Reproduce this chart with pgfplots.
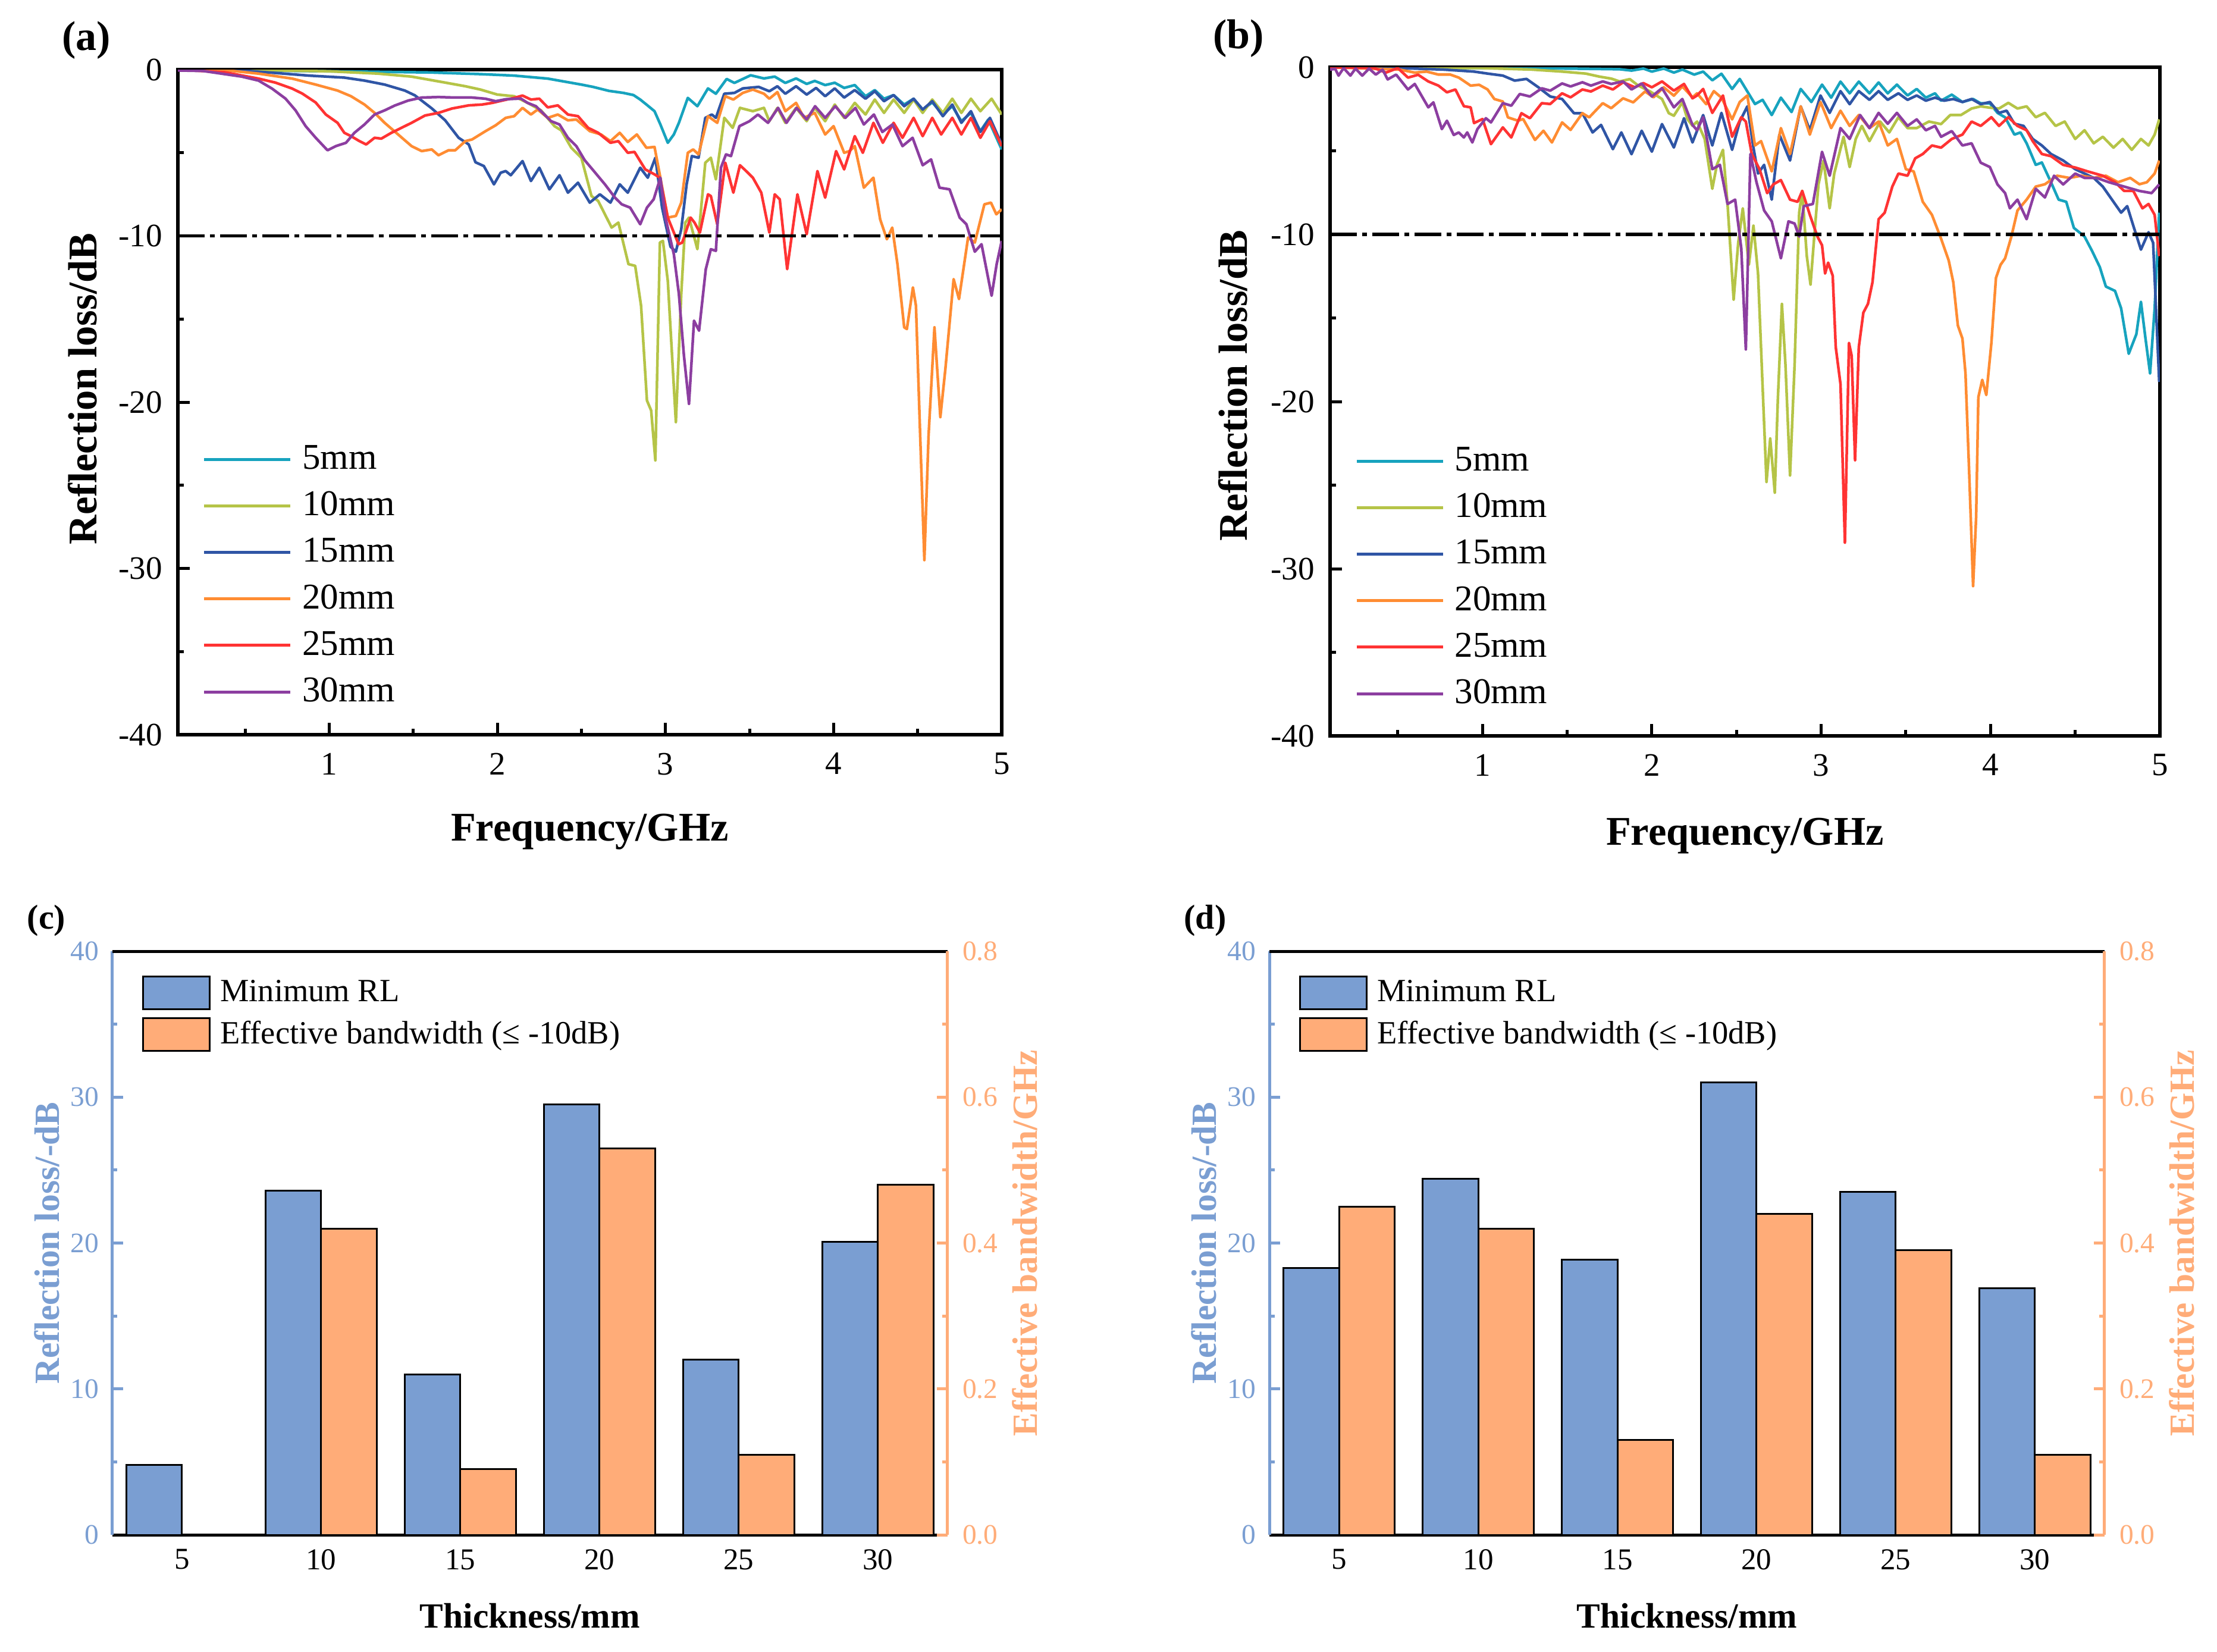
\documentclass[border=0pt]{standalone}
\usepackage{fontspec}
\setmainfont{Liberation Serif}
\usepackage{pgfplots}
\pgfplotsset{compat=1.18}
\definecolor{c5}{RGB}{23,163,190}
\definecolor{c10}{RGB}{181,196,71}
\definecolor{c15}{RGB}{47,85,165}
\definecolor{c20}{RGB}{255,140,50}
\definecolor{c25}{RGB}{255,51,51}
\definecolor{c30}{RGB}{140,62,160}
\definecolor{barblue}{RGB}{122,158,210}
\definecolor{barorange}{RGB}{255,172,120}
\pgfplotsset{
 rlstyle/.style={
  scale only axis,
  xmin=0.1, xmax=5, ymin=-40, ymax=0,
  xtick={1,2,3,4,5}, xticklabels={1,2,3,4,5},
  minor xtick={0.5,1.5,2.5,3.5,4.5},
  ytick={-40,-30,-20,-10,0}, yticklabels={-40,-30,-20,-10,0},
  minor ytick={-35,-25,-15,-5},
  tick align=inside, xtick pos=left, ytick pos=left,
  major tick length=4pt, minor tick length=2pt,
  tick style={black, line width=1pt},
  axis line style={line width=1.2pt},
  tick label style={font=\fontsize{11}{13}\selectfont},
  xticklabel style={yshift=-2.6pt},
  yticklabel style={xshift=-1.7pt},
  label style={font=\bfseries\fontsize{13.7}{16}\selectfont},
  legend style={draw=none, fill=none, inner sep=0pt, outer sep=0pt, row sep=6.05pt, column sep=3.5pt,
    nodes={inner sep=0pt}, font=\fontsize{12.2}{14}\selectfont},
  legend cell align=left,
  legend image code/.code={\draw[##1, line width=1pt] (0pt,0pt) -- (29pt,0pt);},
  every axis plot/.append style={line width=0.9pt, line join=round},
 },
 barlegend/.style={legend image code/.code={\draw[##1] (0pt,-5.5pt) rectangle (22.4pt,5.5pt);}},
 barstyle/.style={
  scale only axis,
  xmin=-0.5, xmax=5.5, ymin=0,
  tick align=inside,
  major tick length=3.6pt, minor tick length=1.7pt,
  yticklabel style={font=\fontsize{9.5}{12}\selectfont},
  xticklabel style={font=\fontsize{10.2}{12}\selectfont},
  label style={font=\bfseries\fontsize{11.9}{14}\selectfont},
  x axis line style={-, black, line width=1pt},
  barlegend,
 },
 barleft/.style={
  axis x line*=bottom, axis y line*=left,
  ymax=40, ytick={0,10,20,30,40}, yticklabels={0,10,20,30,40}, minor ytick={5,15,25,35},
  y axis line style={-, barblue, line width=1pt}, ytick style={barblue, line width=1pt},
  yticklabel style={barblue, xshift=-1pt},
  xtick={0,1,2,3,4,5}, xticklabels={5,10,15,20,25,30}, xtick style={draw=none}, xticklabel style={yshift=-1.35pt},
  xlabel={Thickness/mm}, xlabel style={at={(axis description cs:0.5,-0.1386)}, anchor=center},
  ylabel={Reflection loss/-dB}, ylabel style={at={(axis description cs:-0.0783,0.5)}, anchor=center, color=barblue},
 },
 barright/.style={
  axis x line*=top, axis y line*=right, xtick=\empty,
  ymax=0.8, ytick={0,0.2,0.4,0.6,0.8}, yticklabels={0.0,0.2,0.4,0.6,0.8}, minor ytick={0.1,0.3,0.5,0.7},
  y axis line style={-, barorange, line width=1pt}, ytick style={barorange, line width=1pt},
  yticklabel style={barorange, xshift=1.5pt},
  ylabel={Effective bandwidth/GHz}, ylabel style={at={(axis description cs:1.0926,0.5)}, anchor=center, color=barorange},
  legend style={draw=none, fill=none, inner sep=0pt, outer sep=0pt, row sep=2.4pt, column sep=3.2pt,
    nodes={inner sep=0pt}, font=\fontsize{10.9}{13}\selectfont, at={(axis description cs:0.0358,0.958)}, anchor=north west},
  legend cell align=left,
 },
}
\begin{document}
\begin{tikzpicture}
\useasboundingbox (0pt,0pt) rectangle (745.4pt,-555.2pt);
% ---------------- (a)
\begin{axis}[rlstyle, at={(59.8pt,-247pt)}, anchor=south west, width=277pt, height=223.6pt,
  xlabel={Frequency/GHz}, ylabel={Reflection loss/dB},
  xlabel style={at={(axis description cs:0.5,-0.1458)}, anchor=center},
  ylabel style={at={(axis description cs:-0.1155,0.52)}, anchor=center},
  legend style={at={(axis description cs:0.0303,0.0428)}, anchor=south west}]
\addplot[c5] coordinates {(0.1,0) (0.4,-0.03) (0.8,-0.08) (1.2,-0.12) (1.6,-0.17) (1.9,-0.27) (2.1,-0.36) (2.3,-0.54) (2.5,-0.9) (2.57,-1.04) (2.665,-1.28) (2.75,-1.4) (2.81,-1.53) (2.85,-1.8) (2.887,-2.1) (2.935,-2.5) (2.97,-3.3) (3.014,-4.4) (3.05,-3.9) (3.08,-3.2) (3.133,-1.7) (3.19,-2.2) (3.253,-1.13) (3.30,-1.45) (3.364,-0.56) (3.41,-0.8) (3.507,-0.34) (3.586,-0.53) (3.65,-0.42) (3.713,-0.8) (3.777,-0.53) (3.84,-0.86) (3.888,-0.68) (3.95,-0.93) (4.007,-0.79) (4.063,-1.1) (4.126,-0.93) (4.19,-1.6) (4.245,-1.23) (4.30,-1.75) (4.357,-1.53) (4.42,-2.1) (4.476,-1.75) (4.53,-2.4) (4.587,-1.97) (4.65,-2.7) (4.706,-2.2) (4.76,-3.1) (4.817,-2.6) (4.873,-3.7) (4.92,-3.0) (5.0,-4.8)};
\addplot[c10] coordinates {(0.1,0) (0.6,-0.03) (1.0,-0.1) (1.29,-0.24) (1.49,-0.42) (1.69,-0.78) (1.81,-1.0) (1.9,-1.2) (2.0,-1.5) (2.1,-1.6) (2.18,-2.0) (2.26,-2.45) (2.34,-3.4) (2.38,-3.65) (2.44,-4.7) (2.5,-5.3) (2.56,-7.6) (2.6,-7.9) (2.65,-8.9) (2.68,-9.5) (2.72,-9.2) (2.78,-11.7) (2.82,-11.8) (2.855,-14.2) (2.89,-19.9) (2.915,-20.5) (2.94,-23.5) (2.967,-10.4) (2.985,-10.3) (3.014,-12.7) (3.062,-21.2) (3.094,-13.5) (3.118,-9.2) (3.14,-8.9) (3.19,-10.8) (3.237,-5.6) (3.27,-5.3) (3.30,-6.6) (3.35,-2.9) (3.40,-3.5) (3.443,-2.3) (3.52,-2.5) (3.586,-2.3) (3.618,-3.1) (3.666,-2.3) (3.713,-3.2) (3.777,-2.3) (3.84,-3.1) (3.888,-2.3) (3.95,-3.1) (4.007,-2.1) (4.063,-2.9) (4.126,-2.0) (4.19,-2.7) (4.245,-1.8) (4.30,-2.6) (4.357,-1.8) (4.42,-2.6) (4.476,-1.8) (4.53,-2.6) (4.587,-1.8) (4.65,-2.6) (4.706,-1.75) (4.76,-2.6) (4.817,-1.75) (4.873,-2.5) (4.94,-1.75) (5.0,-2.7)};
\addplot[c15] coordinates {(0.1,0) (0.48,-0.05) (0.68,-0.2) (0.88,-0.36) (1.09,-0.48) (1.21,-0.66) (1.33,-0.9) (1.45,-1.26) (1.51,-1.55) (1.61,-2.33) (1.69,-3.05) (1.77,-4.1) (1.83,-4.5) (1.87,-5.57) (1.92,-5.8) (1.98,-6.9) (2.02,-6.2) (2.05,-6.1) (2.08,-6.35) (2.15,-5.5) (2.2,-6.7) (2.25,-5.9) (2.31,-7.2) (2.37,-6.35) (2.42,-7.4) (2.48,-6.8) (2.55,-8.0) (2.61,-7.5) (2.673,-8.0) (2.728,-6.9) (2.776,-7.4) (2.85,-5.9) (2.895,-6.5) (2.94,-5.3) (2.98,-8.3) (3.03,-10.65) (3.062,-10.95) (3.094,-9.6) (3.126,-6.9) (3.157,-5.2) (3.197,-5.3) (3.237,-2.9) (3.276,-2.7) (3.30,-2.9) (3.35,-1.45) (3.41,-1.4) (3.46,-1.13) (3.555,-1.04) (3.618,-1.3) (3.666,-1.0) (3.713,-1.45) (3.777,-1.0) (3.84,-1.5) (3.896,-1.1) (3.95,-1.6) (4.007,-1.13) (4.063,-1.68) (4.126,-1.23) (4.19,-1.75) (4.245,-1.3) (4.30,-1.9) (4.357,-1.53) (4.42,-2.2) (4.476,-1.75) (4.53,-2.4) (4.587,-1.9) (4.65,-2.8) (4.706,-2.1) (4.76,-3.2) (4.817,-2.5) (4.873,-3.75) (4.93,-2.9) (5.0,-4.5)};
\addplot[c20] coordinates {(0.1,0) (0.38,-0.03) (0.58,-0.24) (0.78,-0.54) (0.92,-0.9) (1.05,-1.26) (1.13,-1.6) (1.21,-2.1) (1.27,-2.6) (1.33,-3.2) (1.41,-3.9) (1.49,-4.6) (1.55,-4.9) (1.61,-4.8) (1.65,-5.15) (1.71,-4.85) (1.75,-4.85) (1.81,-4.3) (1.85,-4.2) (1.93,-3.7) (1.99,-3.35) (2.05,-2.9) (2.1,-2.8) (2.15,-2.3) (2.2,-2.7) (2.24,-2.4) (2.3,-2.9) (2.36,-2.7) (2.42,-3.05) (2.47,-3.0) (2.55,-3.7) (2.617,-3.9) (2.673,-4.3) (2.728,-3.8) (2.776,-4.35) (2.83,-3.9) (2.887,-4.7) (2.935,-4.65) (2.967,-6.35) (3.014,-8.9) (3.062,-8.8) (3.094,-8.0) (3.133,-5.0) (3.165,-4.8) (3.197,-5.1) (3.253,-2.8) (3.308,-3.2) (3.356,-1.6) (3.404,-1.8) (3.46,-1.4) (3.52,-1.2) (3.586,-1.45) (3.618,-1.75) (3.666,-1.35) (3.713,-2.5) (3.777,-2.0) (3.824,-2.9) (3.888,-2.6) (3.95,-3.9) (4.0,-3.4) (4.063,-5.0) (4.095,-4.9) (4.126,-4.6) (4.18,-7.1) (4.237,-6.5) (4.277,-9.0) (4.317,-10.2) (4.349,-9.5) (4.38,-11.7) (4.42,-15.5) (4.436,-15.6) (4.472,-13.1) (4.49,-14.2) (4.515,-22.0) (4.54,-29.5) (4.565,-22.0) (4.6,-15.5) (4.635,-20.9) (4.665,-18.0) (4.714,-12.6) (4.746,-13.8) (4.80,-10.1) (4.84,-10.4) (4.897,-8.1) (4.936,-8.0) (4.968,-8.7) (5.0,-8.4)};
\addplot[c25] coordinates {(0.1,0) (0.38,-0.16) (0.58,-0.54) (0.68,-0.78) (0.78,-1.14) (0.84,-1.44) (0.92,-1.98) (0.98,-2.7) (1.05,-3.2) (1.09,-3.8) (1.13,-4.0) (1.18,-4.3) (1.22,-4.5) (1.27,-4.1) (1.31,-4.15) (1.37,-3.8) (1.43,-3.5) (1.49,-3.2) (1.57,-2.76) (1.65,-2.6) (1.73,-2.34) (1.83,-2.15) (1.91,-2.1) (1.97,-2.0) (2.03,-1.86) (2.1,-1.7) (2.15,-1.56) (2.2,-1.8) (2.25,-1.75) (2.3,-2.27) (2.36,-2.15) (2.42,-2.7) (2.48,-2.8) (2.54,-3.5) (2.6,-3.8) (2.673,-4.4) (2.72,-4.3) (2.776,-5.0) (2.816,-4.95) (2.88,-6.0) (2.935,-6.3) (2.967,-6.5) (3.014,-8.9) (3.078,-10.5) (3.10,-10.4) (3.15,-8.9) (3.173,-9.2) (3.205,-9.8) (3.253,-7.5) (3.27,-7.6) (3.308,-9.3) (3.356,-5.6) (3.404,-7.4) (3.443,-5.75) (3.475,-6.05) (3.52,-6.5) (3.57,-7.4) (3.618,-9.8) (3.65,-7.5) (3.68,-7.8) (3.724,-12.0) (3.785,-7.5) (3.84,-9.9) (3.904,-6.1) (3.95,-7.7) (4.015,-4.9) (4.063,-6.0) (4.126,-4.0) (4.174,-5.0) (4.237,-3.2) (4.293,-4.4) (4.357,-3.2) (4.41,-4.1) (4.476,-2.9) (4.53,-4.0) (4.587,-2.9) (4.64,-3.9) (4.706,-2.9) (4.76,-3.9) (4.817,-2.9) (4.873,-4.1) (4.93,-3.1) (5.0,-4.6)};
\addplot[c30] coordinates {(0.1,-0.05) (0.25,-0.08) (0.48,-0.42) (0.58,-0.66) (0.66,-1.14) (0.74,-1.74) (0.80,-2.45) (0.86,-3.4) (0.92,-4.1) (0.99,-4.85) (1.04,-4.6) (1.1,-4.4) (1.15,-3.8) (1.21,-3.3) (1.27,-2.7) (1.33,-2.45) (1.39,-2.16) (1.47,-1.86) (1.55,-1.68) (1.65,-1.65) (1.75,-1.68) (1.85,-1.68) (1.93,-1.75) (1.99,-1.9) (2.05,-1.78) (2.14,-1.74) (2.18,-2.0) (2.23,-2.2) (2.28,-2.7) (2.32,-3.1) (2.37,-3.3) (2.42,-4.1) (2.47,-4.6) (2.52,-5.45) (2.57,-6.05) (2.64,-6.9) (2.70,-7.7) (2.74,-8.1) (2.79,-8.3) (2.85,-9.3) (2.89,-8.3) (2.93,-7.8) (2.97,-6.5) (3.0,-8.9) (3.05,-11.1) (3.08,-13.5) (3.11,-17.2) (3.14,-20.1) (3.17,-15.1) (3.2,-15.7) (3.24,-12.0) (3.27,-10.8) (3.30,-10.9) (3.33,-5.9) (3.36,-5.1) (3.39,-5.2) (3.44,-3.4) (3.5,-3.1) (3.55,-2.7) (3.61,-3.2) (3.67,-2.3) (3.72,-3.2) (3.78,-2.3) (3.84,-3.0) (3.89,-2.2) (3.95,-2.9) (4.01,-2.2) (4.07,-2.9) (4.13,-2.3) (4.18,-3.3) (4.24,-2.7) (4.29,-3.75) (4.35,-3.3) (4.41,-4.6) (4.47,-4.1) (4.53,-5.75) (4.58,-5.4) (4.63,-7.1) (4.69,-7.2) (4.75,-8.9) (4.79,-9.3) (4.84,-10.95) (4.88,-10.5) (4.94,-13.6) (4.97,-11.7) (5.0,-10.3)};
\addplot[black, line width=1.1pt, dash pattern=on 9pt off 1.8pt on 1.6pt off 1.8pt, forget plot] coordinates {(0.1,-10) (5,-10)};
\legend{5mm,10mm,15mm,20mm,25mm,30mm}
\end{axis}
% ---------------- (b)
\begin{axis}[rlstyle, at={(447.2pt,-247.4pt)}, anchor=south west, width=279pt, height=224.8pt,
  xlabel={Frequency/GHz}, ylabel={Reflection loss/dB},
  xlabel style={at={(axis description cs:0.5,-0.1495)}, anchor=center},
  ylabel style={at={(axis description cs:-0.1168,0.524)}, anchor=center},
  legend style={at={(axis description cs:0.0301,0.0418)}, anchor=south west}]
\addplot[c5] coordinates {(0.1,0) (0.5,-0.03) (1.0,-0.05) (1.5,-0.08) (1.81,-0.12) (1.88,-0.2) (1.95,-0.08) (2.0,-0.26) (2.07,-0.08) (2.13,-0.32) (2.18,-0.14) (2.25,-0.44) (2.303,-0.26) (2.357,-0.78) (2.411,-0.39) (2.474,-1.3) (2.519,-0.7) (2.609,-2.2) (2.654,-1.95) (2.708,-2.86) (2.762,-1.82) (2.825,-2.68) (2.879,-1.3) (2.942,-2.08) (3.005,-1.04) (3.059,-1.82) (3.114,-0.86) (3.168,-1.56) (3.222,-0.86) (3.285,-1.56) (3.339,-0.91) (3.393,-1.56) (3.447,-1.04) (3.51,-1.69) (3.564,-1.3) (3.618,-1.82) (3.672,-1.56) (3.708,-2.0) (3.771,-1.64) (3.834,-2.08) (3.897,-1.9) (3.942,-2.16) (3.996,-2.16) (4.041,-2.73) (4.086,-3.0) (4.141,-4.03) (4.177,-3.9) (4.213,-4.55) (4.267,-5.84) (4.303,-5.7) (4.357,-6.88) (4.402,-7.92) (4.447,-8.05) (4.492,-9.61) (4.555,-10.13) (4.60,-11.0) (4.645,-11.95) (4.681,-13.12) (4.735,-13.38) (4.771,-14.42) (4.816,-17.14) (4.861,-15.97) (4.888,-14.03) (4.915,-16.23) (4.942,-18.31) (4.969,-14.42) (4.996,-8.7)};
\addplot[c10] coordinates {(0.1,0) (0.5,-0.03) (1.0,-0.05) (1.29,-0.14) (1.47,-0.26) (1.61,-0.38) (1.69,-0.56) (1.76,-0.68) (1.81,-0.85) (1.87,-0.71) (1.92,-1.1) (1.99,-1.45) (2.06,-1.9) (2.10,-2.75) (2.13,-2.9) (2.18,-2.1) (2.21,-3.1) (2.24,-3.5) (2.267,-3.25) (2.312,-4.29) (2.357,-7.27) (2.384,-5.84) (2.42,-4.94) (2.447,-8.18) (2.483,-13.9) (2.51,-10.5) (2.537,-8.44) (2.573,-11.82) (2.60,-9.48) (2.627,-12.34) (2.654,-19.09) (2.677,-24.81) (2.699,-22.21) (2.726,-25.45) (2.744,-19.87) (2.768,-14.16) (2.789,-17.79) (2.816,-24.42) (2.843,-17.79) (2.87,-8.7) (2.888,-7.4) (2.915,-11.3) (2.937,-13.0) (2.96,-10.0) (2.984,-7.0) (3.014,-5.58) (3.05,-8.44) (3.077,-6.36) (3.132,-4.16) (3.168,-5.97) (3.204,-4.29) (3.24,-3.51) (3.285,-4.42) (3.348,-3.25) (3.402,-3.9) (3.456,-2.99) (3.51,-3.64) (3.564,-3.64) (3.636,-3.25) (3.708,-3.4) (3.762,-2.86) (3.825,-2.86) (3.888,-2.47) (3.942,-2.34) (3.996,-2.42) (4.05,-2.47) (4.105,-2.13) (4.159,-2.47) (4.213,-2.34) (4.267,-2.99) (4.321,-2.73) (4.384,-3.51) (4.438,-3.25) (4.50,-4.29) (4.555,-3.77) (4.609,-4.55) (4.663,-4.16) (4.726,-4.81) (4.78,-4.29) (4.834,-4.94) (4.888,-4.29) (4.933,-4.68) (4.969,-4.03) (4.996,-3.12)};
\addplot[c15] coordinates {(0.1,0) (0.6,-0.08) (0.77,-0.14) (0.95,-0.26) (1.03,-0.38) (1.12,-0.5) (1.19,-0.8) (1.26,-0.7) (1.33,-1.2) (1.40,-1.75) (1.47,-1.9) (1.54,-2.75) (1.59,-2.75) (1.65,-3.9) (1.70,-3.45) (1.77,-4.9) (1.82,-3.9) (1.88,-5.2) (1.94,-3.8) (2.0,-5.05) (2.06,-3.4) (2.13,-4.8) (2.19,-3.05) (2.24,-4.5) (2.303,-2.86) (2.357,-4.68) (2.411,-2.73) (2.474,-4.94) (2.519,-3.25) (2.564,-2.34) (2.60,-4.81) (2.627,-6.36) (2.663,-5.84) (2.708,-7.92) (2.753,-4.03) (2.816,-5.58) (2.879,-2.34) (2.933,-3.77) (2.996,-1.69) (3.05,-2.73) (3.114,-1.43) (3.168,-2.21) (3.222,-1.43) (3.285,-1.95) (3.339,-1.43) (3.393,-1.95) (3.456,-1.56) (3.51,-1.95) (3.564,-1.69) (3.618,-2.0) (3.672,-1.82) (3.726,-2.0) (3.78,-1.9) (3.834,-2.08) (3.888,-1.9) (3.942,-2.21) (3.996,-2.08) (4.05,-2.73) (4.095,-2.6) (4.141,-3.38) (4.195,-3.51) (4.249,-4.29) (4.303,-4.68) (4.357,-5.19) (4.429,-5.58) (4.50,-6.1) (4.555,-6.36) (4.609,-6.62) (4.663,-7.14) (4.717,-7.92) (4.771,-8.7) (4.807,-8.31) (4.843,-9.48) (4.888,-10.91) (4.933,-9.87) (4.96,-10.5) (4.996,-18.83)};
\addplot[c20] coordinates {(0.1,0) (0.51,-0.14) (0.60,-0.32) (0.67,-0.26) (0.74,-0.44) (0.81,-0.44) (0.86,-0.62) (0.93,-1.1) (0.98,-1.05) (1.03,-1.33) (1.07,-1.9) (1.12,-2.05) (1.15,-3.0) (1.21,-3.2) (1.24,-3.1) (1.31,-4.35) (1.36,-3.8) (1.41,-4.5) (1.47,-3.3) (1.52,-3.75) (1.59,-2.75) (1.63,-3.0) (1.71,-2.15) (1.76,-2.45) (1.83,-1.86) (1.89,-2.1) (1.96,-1.45) (2.01,-1.8) (2.07,-1.2) (2.13,-1.7) (2.18,-1.15) (2.24,-1.8) (2.267,-1.56) (2.321,-2.21) (2.366,-1.43) (2.411,-1.82) (2.474,-3.12) (2.519,-2.08) (2.564,-1.69) (2.609,-4.68) (2.645,-4.42) (2.708,-6.23) (2.762,-3.64) (2.816,-5.19) (2.879,-2.34) (2.933,-4.03) (2.996,-2.08) (3.059,-3.64) (3.114,-2.6) (3.168,-3.51) (3.222,-2.86) (3.285,-3.64) (3.339,-3.25) (3.393,-4.68) (3.447,-4.29) (3.50,-6.1) (3.546,-6.23) (3.6,-8.05) (3.654,-8.83) (3.708,-10.26) (3.753,-11.56) (3.78,-12.86) (3.807,-15.45) (3.834,-16.23) (3.852,-18.31) (3.874,-24.29) (3.897,-31.04) (3.915,-26.88) (3.928,-19.74) (3.951,-18.7) (3.975,-19.61) (4.005,-16.49) (4.032,-12.6) (4.059,-11.82) (4.086,-11.43) (4.123,-10.13) (4.159,-8.57) (4.213,-7.92) (4.267,-7.14) (4.321,-7.0) (4.393,-6.49) (4.465,-6.62) (4.537,-6.49) (4.609,-6.62) (4.681,-6.49) (4.753,-6.88) (4.825,-6.62) (4.879,-7.0) (4.923,-6.88) (4.969,-6.36) (4.996,-5.58)};
\addplot[c25] coordinates {(0.1,0) (0.36,-0.05) (0.43,-0.32) (0.50,-0.05) (0.56,-0.62) (0.62,-0.45) (0.68,-0.85) (0.74,-1.1) (0.79,-1.5) (0.84,-1.33) (0.89,-2.33) (0.93,-2.4) (0.95,-3.34) (1.0,-3.1) (1.05,-4.6) (1.12,-3.6) (1.17,-4.2) (1.23,-2.75) (1.28,-3.05) (1.35,-2.15) (1.40,-2.2) (1.47,-1.56) (1.52,-1.8) (1.59,-1.33) (1.64,-1.45) (1.71,-1.1) (1.77,-1.33) (1.83,-0.9) (1.90,-1.2) (1.95,-0.95) (2.0,-1.2) (2.06,-0.85) (2.13,-1.4) (2.19,-1.0) (2.24,-1.86) (2.267,-1.69) (2.303,-1.3) (2.357,-2.73) (2.42,-1.69) (2.474,-4.16) (2.528,-2.99) (2.555,-3.25) (2.59,-5.19) (2.636,-6.1) (2.681,-7.53) (2.717,-7.01) (2.762,-6.75) (2.816,-7.92) (2.861,-8.05) (2.888,-7.4) (2.933,-8.83) (2.978,-10.13) (3.005,-10.65) (3.023,-12.34) (3.041,-11.69) (3.068,-12.47) (3.086,-16.75) (3.114,-18.96) (3.14,-28.44) (3.164,-16.49) (3.18,-17.27) (3.2,-23.51) (3.222,-16.75) (3.249,-14.68) (3.276,-14.16) (3.303,-12.86) (3.339,-9.09) (3.375,-8.7) (3.42,-7.14) (3.456,-6.36) (3.51,-6.49) (3.555,-5.45) (3.6,-5.19) (3.654,-4.68) (3.708,-4.81) (3.771,-4.29) (3.834,-4.03) (3.888,-3.25) (3.942,-3.51) (4.005,-2.99) (4.05,-3.51) (4.105,-2.99) (4.159,-3.51) (4.213,-3.77) (4.249,-4.42) (4.303,-5.19) (4.357,-5.32) (4.429,-5.84) (4.50,-6.0) (4.573,-6.23) (4.663,-6.49) (4.735,-6.88) (4.789,-7.4) (4.843,-7.4) (4.897,-8.44) (4.933,-8.18) (4.969,-8.83) (4.996,-11.3)};
\addplot[c30] coordinates {(0.1,-0.14) (0.13,-0.1) (0.15,-0.5) (0.18,-0.05) (0.22,-0.5) (0.25,-0.08) (0.29,-0.5) (0.33,-0.08) (0.37,-0.44) (0.41,-0.14) (0.44,-0.73) (0.49,-0.44) (0.56,-1.33) (0.6,-1.0) (0.68,-2.4) (0.71,-2.1) (0.76,-3.7) (0.79,-3.2) (0.83,-4.05) (0.86,-3.9) (0.89,-4.2) (0.91,-3.9) (0.94,-4.5) (0.97,-3.7) (1.02,-3.05) (1.05,-3.3) (1.12,-2.15) (1.17,-2.3) (1.22,-1.6) (1.28,-1.75) (1.35,-1.26) (1.40,-1.4) (1.47,-0.97) (1.52,-1.15) (1.59,-0.9) (1.64,-1.1) (1.71,-0.85) (1.76,-1.0) (1.83,-0.85) (1.88,-1.33) (1.94,-0.97) (2.0,-1.75) (2.06,-1.25) (2.13,-2.4) (2.18,-1.9) (2.24,-3.45) (2.267,-3.77) (2.303,-2.99) (2.357,-6.1) (2.402,-5.84) (2.447,-8.18) (2.492,-7.92) (2.528,-10.83) (2.555,-16.88) (2.582,-5.19) (2.618,-6.88) (2.663,-8.57) (2.708,-9.22) (2.762,-11.43) (2.807,-9.22) (2.843,-9.35) (2.87,-10.13) (2.897,-8.31) (2.951,-8.18) (3.005,-5.06) (3.05,-6.49) (3.114,-3.64) (3.168,-4.29) (3.23,-2.86) (3.285,-3.64) (3.339,-2.73) (3.393,-3.38) (3.447,-2.73) (3.51,-3.51) (3.564,-3.12) (3.618,-3.77) (3.672,-3.51) (3.708,-4.16) (3.771,-3.82) (3.834,-4.68) (3.888,-4.55) (3.942,-5.71) (3.996,-5.97) (4.041,-7.01) (4.086,-7.53) (4.114,-8.44) (4.159,-7.92) (4.213,-9.09) (4.267,-7.27) (4.321,-7.79) (4.375,-6.49) (4.429,-7.01) (4.50,-6.36) (4.555,-6.62) (4.627,-6.62) (4.699,-6.88) (4.789,-7.14) (4.879,-7.4) (4.951,-7.53) (4.996,-7.01)};
\addplot[black, line width=1.1pt, dash pattern=on 9pt off 1.8pt on 1.6pt off 1.8pt, forget plot] coordinates {(0.1,-10) (5,-10)};
\legend{5mm,10mm,15mm,20mm,25mm,30mm}
\end{axis}
% ---------------- (c)
\begin{axis}[barstyle, barleft, at={(37.8pt,-516pt)}, anchor=south west, width=280.8pt, height=196.2pt]
\addplot[ybar, bar width=0.4, bar shift=-0.2, fill=barblue, draw=black, line width=0.6pt] coordinates {(0,4.8) (1,23.6) (2,11.0) (3,29.5) (4,12.0) (5,20.1)};
\end{axis}
\begin{axis}[barstyle, barright, at={(37.8pt,-516pt)}, anchor=south west, width=280.8pt, height=196.2pt]
\addlegendimage{fill=barblue, draw=black, line width=0.6pt}
\addlegendentry{Minimum RL}
\addplot[ybar, bar width=0.4, bar shift=0.2, fill=barorange, draw=black, line width=0.6pt, barlegend] coordinates {(0,0) (1,0.42) (2,0.09) (3,0.53) (4,0.11) (5,0.48)};
\addlegendentry{Effective bandwidth (≤ -10dB)}
\end{axis}
% ---------------- (d)
\begin{axis}[barstyle, barleft, at={(426.8pt,-516pt)}, anchor=south west, width=280.8pt, height=196.2pt]
\addplot[ybar, bar width=0.4, bar shift=-0.2, fill=barblue, draw=black, line width=0.6pt] coordinates {(0,18.3) (1,24.4) (2,18.85) (3,31.0) (4,23.5) (5,16.9)};
\end{axis}
\begin{axis}[barstyle, barright, at={(426.8pt,-516pt)}, anchor=south west, width=280.8pt, height=196.2pt]
\addlegendimage{fill=barblue, draw=black, line width=0.6pt}
\addlegendentry{Minimum RL}
\addplot[ybar, bar width=0.4, bar shift=0.2, fill=barorange, draw=black, line width=0.6pt, barlegend] coordinates {(0,0.45) (1,0.42) (2,0.13) (3,0.44) (4,0.39) (5,0.11)};
\addlegendentry{Effective bandwidth (≤ -10dB)}
\end{axis}
% ---------------- panel tags
\node[font=\bfseries\fontsize{14}{16}\selectfont] at (29pt,-13.6pt) {(a)};
\node[font=\bfseries\fontsize{14}{16}\selectfont] at (416.4pt,-13pt) {(b)};
\node[font=\bfseries\fontsize{11.6}{14}\selectfont] at (15.6pt,-309.6pt) {(c)};
\node[font=\bfseries\fontsize{11.6}{14}\selectfont] at (405.2pt,-309.6pt) {(d)};
\end{tikzpicture}
\end{document}
